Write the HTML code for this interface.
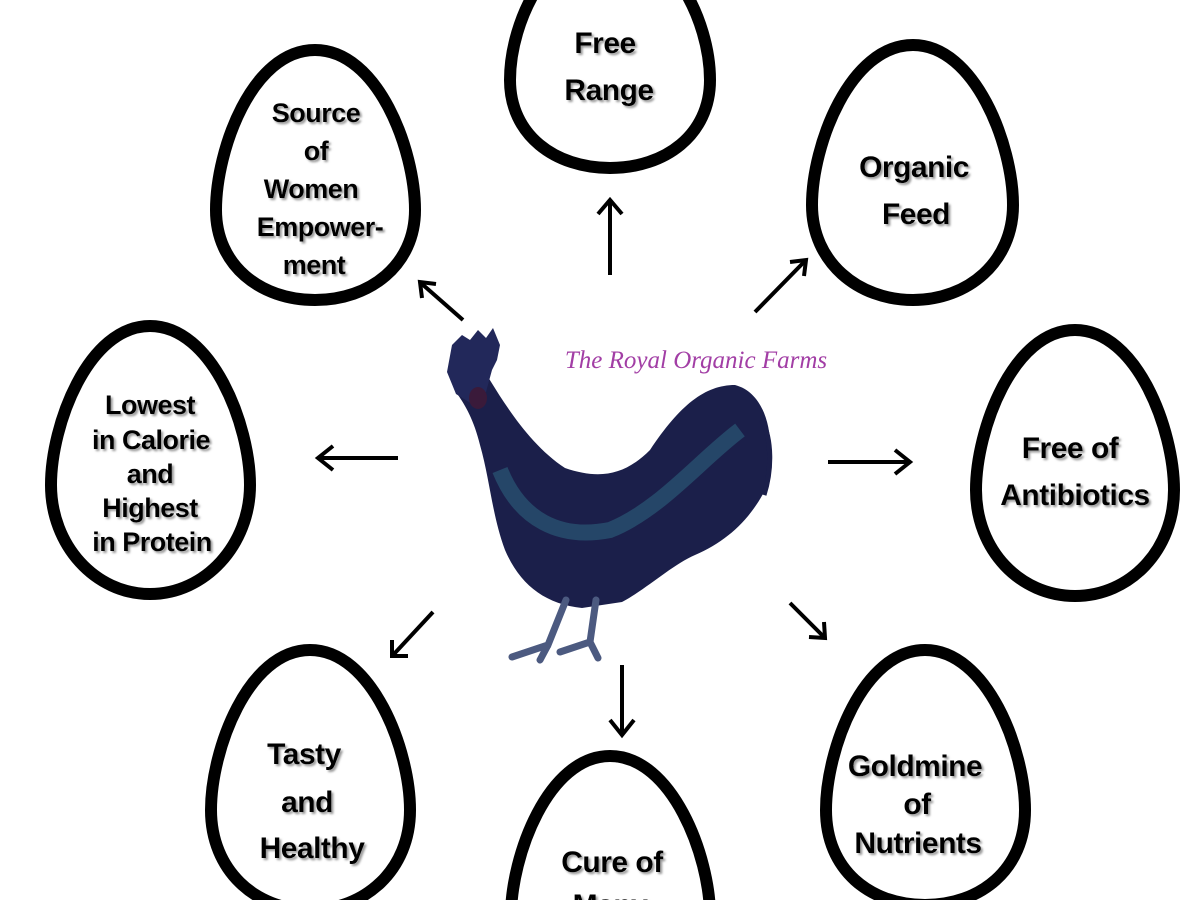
<!DOCTYPE html>
<html><head><meta charset="utf-8"><style>
html,body{margin:0;padding:0;background:#fff;width:1200px;height:900px;overflow:hidden}
svg{display:block}
.t{font-family:"Liberation Sans",sans-serif;font-weight:bold;font-size:30px;fill:#000;text-anchor:middle;letter-spacing:-0.5px}
.egg{fill:#fff;stroke:#000;stroke-width:12}
.a{stroke:#000;stroke-width:4;fill:none}
</style></head><body>
<svg width="1200" height="900" viewBox="0 0 1200 900">
<defs>
<filter id="sh"><feDropShadow dx="2" dy="2" stdDeviation="1" flood-color="#999"/></filter>
</defs>
<g class="egg">
<path d="M610,-60 C670,-60 710,20 710,80 C710,135 665,168 610,168 C555,168 510,135 510,80 C510,20 550,-60 610,-60Z"/>
<path d="M315,50 C378,50 415,150 415,210 C415,265 370,300 315,300 C260,300 216,265 216,210 C216,150 252,50 315,50Z"/>
<path d="M913,45 C975,45 1013,145 1013,205 C1013,262 968,300 913,300 C858,300 812,262 812,205 C812,145 850,45 913,45Z"/>
<path d="M150,326 C212,326 250,425 250,485 C250,545 205,594 150,594 C95,594 51,545 51,485 C51,425 88,326 150,326Z"/>
<path d="M1075,330 C1137,330 1174,430 1174,490 C1174,550 1130,596 1075,596 C1020,596 976,550 976,490 C976,430 1013,330 1075,330Z"/>
<path d="M310,650 C372,650 410,750 410,810 C410,870 365,910 310,910 C255,910 211,870 211,810 C211,750 248,650 310,650Z"/>
<path d="M610,756 C672,756 710,856 710,916 C710,976 665,1016 610,1016 C555,1016 511,976 511,916 C511,856 548,756 610,756Z"/>
<path d="M925,650 C987,650 1025,750 1025,810 C1025,870 980,905 925,905 C870,905 826,870 826,810 C826,750 863,650 925,650Z"/>
</g>
<g class="a">
<line x1="610" y1="275" x2="610" y2="202"/><path d="M598,214 L610,200 L622,214"/>
<line x1="755" y1="312" x2="804" y2="262"/><path d="M790,262 L806,260 L804,276"/>
<line x1="398" y1="458" x2="320" y2="458"/><path d="M333,446 L318,458 L333,470"/>
<line x1="828" y1="462" x2="908" y2="462"/><path d="M895,450 L910,462 L895,474"/>
<line x1="463" y1="320" x2="422" y2="284"/><path d="M422,298 L420,282 L436,284"/>
<line x1="433" y1="612" x2="394" y2="654"/><path d="M392,640 L392,656 L408,656"/>
<line x1="622" y1="665" x2="622" y2="733"/><path d="M610,720 L622,735 L634,720"/>
<line x1="790" y1="603" x2="823" y2="636"/><path d="M824,622 L825,638 L809,637"/>
</g>
<g>
<path d="M485,372 C505,405 530,445 565,468 C600,480 625,475 650,450 C680,405 705,385 735,385 C762,392 772,425 770,455 L764,492 C748,522 725,542 695,555 C672,565 645,590 622,602 L582,608 C545,604 520,585 505,550 C492,515 490,480 480,445 C474,420 465,405 458,395 Z" fill="#1b1f4a"/>
<path d="M500,470 C520,520 560,540 610,530 C660,510 700,460 740,430" stroke="#2f6e86" stroke-width="16" fill="none" opacity="0.5"/>
<path d="M452,345 L462,335 L470,340 L478,330 L486,338 L493,328 L500,345 L497,360 L492,370 L486,392 L472,404 L456,394 L447,372 Z" fill="#22285a"/>
<ellipse cx="478" cy="398" rx="9" ry="11" fill="#3a1a3a"/>
<path d="M566,600 L548,645 L512,657 M548,645 L540,660 M596,600 L590,642 L560,652 M590,642 L598,658" stroke="#4c5a80" stroke-width="7" fill="none" stroke-linecap="round"/>
<path d="M762,420 C772,440 772,470 764,495" stroke="#1b1f4a" stroke-width="5" fill="none"/>
</g>
<text x="696" y="368" font-family="Liberation Serif,serif" font-style="italic" font-size="25" fill="#a23ea5" text-anchor="middle">The Royal Organic Farms</text>
<g class="t" filter="url(#sh)">
<text x="605" y="53">Free</text><text x="609" y="100">Range</text>
<text x="316" y="122" font-size="27">Source</text><text x="316" y="160" font-size="27">of</text><text x="311" y="198" font-size="27">Women</text><text x="320" y="236" font-size="27">Empower-</text><text x="314" y="274" font-size="27">ment</text>
<text x="914" y="177">Organic</text><text x="916" y="224">Feed</text>
<text x="150" y="414" font-size="27">Lowest</text><text x="151" y="449" font-size="27">in Calorie</text><text x="150" y="483" font-size="27">and</text><text x="150" y="517" font-size="27">Highest</text><text x="152" y="551" font-size="27">in Protein</text>
<text x="1070" y="458">Free of</text><text x="1075" y="505">Antibiotics</text>
<text x="304" y="764">Tasty</text><text x="307" y="812">and</text><text x="312" y="858">Healthy</text>
<text x="612" y="872">Cure of</text><text x="610" y="915">Many</text>
<text x="915" y="776">Goldmine</text><text x="917" y="814">of</text><text x="918" y="853">Nutrients</text>
</g>
</svg>
</body></html>
